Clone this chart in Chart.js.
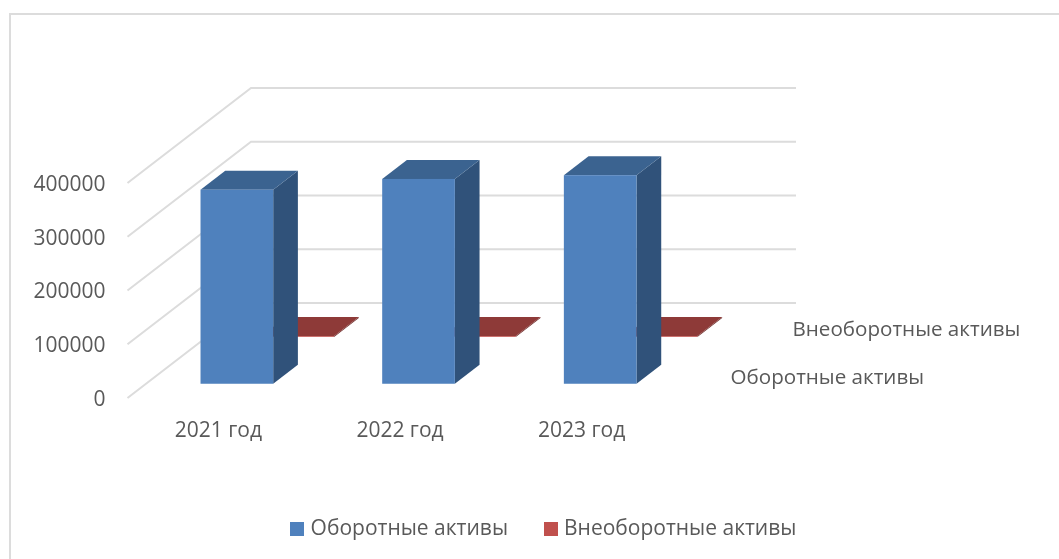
<!DOCTYPE html>
<html>
<head>
<meta charset="utf-8">
<title>Активы</title>
<script src="https://cdn.jsdelivr.net/npm/chart.js@4"></script>
<style>
    html, body { margin: 0; padding: 0; background: #fff; overflow: hidden; }
    #frame { position: absolute; left: 9px; top: 13px; right: 0; bottom: 0; border-left: 2px solid #dcdcdc; border-top: 2px solid #dcdcdc; }
    #wrap { position: absolute; left: 0; top: 0; width: 1059px; height: 559px; }
</style>
</head>
<body>
<div id="frame"></div>
<div id="wrap"><canvas id="chart" width="1059" height="559"></canvas></div>
<script>
const years = ['2021 год', '2022 год', '2023 год'];
const currentAssets = [361000, 381000, 388000];
const fixedAssets = [1500, 1500, 1500];
const seriesNames = ['Оборотные активы', 'Внеоборотные активы'];

const textColor = '#595959';
const fontName = '"Open Sans", sans-serif';
const fontSize = 21;

// how far the back wall sits from the front plane, in pixels
const wallDx = 123.5;
const wallDy = 95;
const barDepth = 0.2;
const seriesDepth = [0.15, 0.643];
const faceColors = [
    { front: '#4f81bd', top: '#3b6390', side: '#30527a' },
    { front: '#c0504d', top: '#8e3a38', side: '#6f2d2b' }
];

// legend squares sit closer to their text than Chart.js allows with a plain box
function makeSwatch(color) {
    const c = document.createElement('canvas');
    c.width = 14;
    c.height = 14;
    const g = c.getContext('2d');
    g.fillStyle = color;
    g.fillRect(0, 0, 14, 14);
    return c;
}
const swatches = faceColors.map(function(f) { return makeSwatch(f.front); });

const fake3d = {
    id: 'fake3d',
    beforeDatasetsDraw(chart) {
        const ctx = chart.ctx;
        const y = chart.scales.y;
        const left = chart.chartArea.left, right = chart.chartArea.right;
        ctx.save();
        ctx.strokeStyle = '#dcdcdc';
        ctx.lineWidth = 2;
        y.ticks.forEach(function(t) {
            const py = y.getPixelForValue(t.value);
            ctx.beginPath();
            ctx.moveTo(left, py);
            ctx.lineTo(left + wallDx, py - wallDy);
            ctx.lineTo(right + wallDx, py - wallDy);
            ctx.stroke();
        });
        // names on the depth axis
        ctx.fillStyle = textColor;
        ctx.font = '20.6px ' + fontName;
        ctx.textBaseline = 'middle';
        ctx.fillText(seriesNames[0], right + 58, y.bottom - 20);
        ctx.fillText(seriesNames[1], right + 120, y.bottom - 68);
        ctx.restore();
    },
    beforeDatasetDraw(chart, args) {
        const ctx = chart.ctx;
        const colors = faceColors[args.index];
        const shiftX = seriesDepth[args.index] * wallDx;
        const shiftY = seriesDepth[args.index] * wallDy;
        const dx = barDepth * wallDx;
        const dy = barDepth * wallDy;
        ctx.save();
        args.meta.data.forEach(function(bar) {
            const x0 = bar.x - bar.width / 2 + shiftX;
            const x1 = bar.x + bar.width / 2 + shiftX;
            const top = bar.y - shiftY;
            const bottom = bar.base - shiftY;

            ctx.fillStyle = colors.side;
            ctx.beginPath();
            ctx.moveTo(x1, top);
            ctx.lineTo(x1 + dx, top - dy);
            ctx.lineTo(x1 + dx, bottom - dy);
            ctx.lineTo(x1, bottom);
            ctx.closePath();
            ctx.fill();

            ctx.fillStyle = colors.top;
            ctx.beginPath();
            ctx.moveTo(x0, top);
            ctx.lineTo(x0 + dx, top - dy);
            ctx.lineTo(x1 + dx, top - dy);
            ctx.lineTo(x1, top);
            ctx.closePath();
            ctx.fill();

            ctx.fillStyle = colors.front;
            ctx.fillRect(x0, top, x1 - x0, bottom - top);
        });
        ctx.restore();
        return false;
    }
};

new Chart(document.getElementById('chart').getContext('2d'), {
    type: 'bar',
    data: {
        labels: years,
        datasets: [
            { label: seriesNames[0], data: currentAssets, backgroundColor: faceColors[0].front, grouped: false, barPercentage: 0.4, categoryPercentage: 1 },
            { label: seriesNames[1], data: fixedAssets, backgroundColor: faceColors[1].front, grouped: false, barPercentage: 0.4, categoryPercentage: 1 }
        ]
    },
    plugins: [fake3d],
    options: {
        responsive: false,
        animation: false,
        layout: { padding: { left: 31.5, right: 0, top: 183, bottom: 9.5 } },
        scales: {
            x: {
                grid: { display: false },
                border: { display: false },
                ticks: { color: textColor, font: { family: fontName, size: fontSize }, padding: 12, maxRotation: 0 },
                afterFit(scale) { scale.height = 81; }
            },
            y: {
                min: 0,
                max: 400000,
                grid: { display: false },
                border: { display: false },
                ticks: { stepSize: 100000, color: textColor, font: { family: fontName, size: fontSize }, padding: 14, labelOffset: 2, callback: function(v) { return String(v); } },
                afterFit(scale) { scale.width = 96; }
            },
            // empty axis, only keeps the plot away from the right edge
            pad: {
                type: 'linear',
                position: 'right',
                grid: { display: false },
                border: { display: false },
                ticks: { display: false },
                afterFit(scale) { scale.width = 386.5; }
            }
        },
        plugins: {
            tooltip: { enabled: false },
            legend: {
                position: 'bottom',
                labels: {
                    usePointStyle: true,
                    pointStyleWidth: 6,
                    padding: 39.5,
                    color: textColor,
                    font: { family: fontName, size: fontSize },
                    generateLabels(chart) {
                        const items = Chart.defaults.plugins.legend.labels.generateLabels(chart);
                        items.forEach(function(item, i) { item.pointStyle = swatches[i]; });
                        return items;
                    }
                }
            }
        }
    }
});
</script>
</body>
</html>
